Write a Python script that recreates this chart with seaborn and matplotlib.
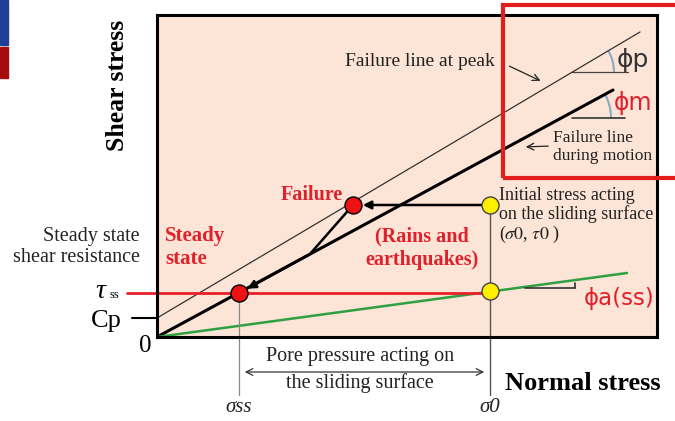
import numpy as np
import pandas as pd
import matplotlib.pyplot as plt
import matplotlib.patches as mpatches
import seaborn as sns

# values (box units: 500 wide, 322 high)
peak_x = [0, 483]
peak_y = [19, 305]
motion_x = [0, 456]
motion_y = [0, 247]
ss_x = [0, 470]
ss_y = [0, 64]
cp = 19
tau_ss = 44
sigma_ss = 82
sigma_0 = 333
tau_0 = 132
fail_x = 196
fail_y = 132
kink_x, kink_y = 153, 83
red_pts_x = [fail_x, sigma_ss]
red_pts_y = [fail_y, tau_ss]
yel_pts_x = [sigma_0, sigma_0]
yel_pts_y = [tau_0, tau_ss + 2]

sns.set_theme(style="white")
plt.rcParams['font.family'] = ['Liberation Serif', 'DejaVu Serif']
plt.rcParams['mathtext.fontset'] = 'stix'

fig = plt.figure(figsize=(6.75, 4.21), dpi=100)
ax = fig.add_axes([157 / 675, 84 / 421, 500 / 675, 322 / 421])
ax.set_facecolor("#fce4d6")
ax.set_xlim(0, 500)
ax.set_ylim(0, 322)
ax.set_xticks([])
ax.set_yticks([])
for s in ax.spines.values():
    s.set_color("black")
    s.set_linewidth(2.2)

lines = pd.DataFrame({"x": peak_x, "y": peak_y})
sns.lineplot(data=lines, x="x", y="y", ax=ax, color="#333333", lw=0.9)
sns.lineplot(x=motion_x, y=motion_y, ax=ax, color="black", lw=2.2)
sns.lineplot(x=ss_x, y=ss_y, ax=ax, color="#2ea043", lw=1.8)
ax.plot([-30, sigma_0], [tau_ss, tau_ss], color="#e8202a", lw=2, clip_on=False)
ax.plot([-25, 0], [cp, cp], color="black", lw=1.5, clip_on=False)
# sigma verticals
ax.plot([sigma_0, sigma_0], [tau_0, -58], color="#555555", lw=1, clip_on=False)
ax.plot([sigma_ss, sigma_ss], [tau_ss, -58], color="#888888", lw=0.9, clip_on=False)

# stress path
ax.annotate("", xy=(fail_x + 7, fail_y), xytext=(sigma_0, tau_0),
            arrowprops=dict(arrowstyle="-|>", color="black", lw=1.8, mutation_scale=12))
ax.plot([fail_x, kink_x], [fail_y, kink_y], color="black", lw=1.8)
ax.annotate("", xy=(sigma_ss + 6, tau_ss + 3), xytext=(kink_x, kink_y),
            arrowprops=dict(arrowstyle="-|>", color="black", lw=1.8, mutation_scale=12))

sns.scatterplot(x=red_pts_x, y=red_pts_y, ax=ax, s=150, color="#ee1111",
                edgecolor="black", linewidth=1, zorder=5)
sns.scatterplot(x=yel_pts_x, y=yel_pts_y, ax=ax, s=150, color="#ffee00",
                edgecolor="#444444", linewidth=1, zorder=5)

# angle arcs
ax.plot([415, 471], [265, 265], color="#444444", lw=0.9)
ax.add_patch(mpatches.Arc((415, 265), 84, 84, theta1=0, theta2=30.6, color="#8fa8c4", lw=1.5))
ax.plot([415, 468], [219, 219], color="#333333", lw=1.2)
ax.add_patch(mpatches.Arc((404, 219), 100, 100, theta1=0, theta2=28.4, color="#8fa8c4", lw=1.5))
ax.plot([368, 418], [49, 49], color="#333333", lw=1.2)
ax.plot([418, 418], [49, 54], color="#333333", lw=1.2)

red = "#e0202a"
ax.text(460, 277, "ϕp", fontsize=18, family=["DejaVu Sans"], color="#333333", va="center")
ax.text(457, 234, "ϕm", fontsize=17, family=["DejaVu Sans"], color=red, va="center")
ax.text(427, 39, "ϕa(ss)", fontsize=16.5, family=["DejaVu Sans"], color=red, va="center")

ax.text(188, 276, "Failure line at peak", fontsize=14, color="#222222", va="center")
ax.annotate("", xy=(386, 255), xytext=(350, 272),
            arrowprops=dict(arrowstyle="->", color="#222222", lw=0.9))
ax.text(396, 190, "Failure line\nduring motion", fontsize=12.5, color="#222222",
        va="center", linespacing=1.2)
ax.annotate("", xy=(366, 190), xytext=(394, 191),
            arrowprops=dict(arrowstyle="->", color="#222222", lw=0.9))

ax.text(186, 142, "Failure", fontsize=14.5, weight="bold", color=red, ha="right", va="center")
ax.text(8, 89, "Steady\nstate", fontsize=15, weight="bold", color=red, va="center",
        linespacing=1.2)
ax.text(265, 89, "(Rains and\nearthquakes)", fontsize=14.5, weight="bold", color=red,
        ha="center", va="center", linespacing=1.2)
ax.text(342, 121, "Initial stress acting\non the sliding surface\n($\\mathit{\\sigma 0}$, $\\mathit{\\tau 0}$ )",
        fontsize=13, color="#222222", va="center", linespacing=1.1)

# outside labels
ax.text(-17, 90, "Steady state\nshear resistance", fontsize=14.5, color="#222222",
        ha="right", va="center", linespacing=1.2)
ax.text(-52, tau_ss + 1, "τ", fontsize=20, style="italic", color="black", ha="right", va="center")
ax.text(-48, tau_ss - 2, "ss", fontsize=9, color="black", ha="left", va="center")
ax.text(-35, cp - 3, "Cp", fontsize=19, color="black", ha="right", va="center")
ax.text(-12, -9, "0", fontsize=18, color="black", ha="center", va="center")
ax.text(sigma_ss, -70, "σss", fontsize=15, style="italic", color="#222222", ha="center", va="center")
ax.text(sigma_0, -70, "σ0", fontsize=15, style="italic", color="#222222", ha="center", va="center")

ax.annotate("", xy=(sigma_0 - 3, -35), xytext=(sigma_ss + 3, -35), annotation_clip=False,
            arrowprops=dict(arrowstyle="<->", color="#333333", lw=0.9))
ax.text(203, -20, "Pore pressure acting on", fontsize=14.5, color="#222222", ha="center", va="center")
ax.text(203, -46, "the sliding surface", fontsize=14.5, color="#222222", ha="center", va="center")

ax.text(348, -46, "Normal stress", fontsize=19, weight="bold", color="black", va="center")
ax.text(-39, 252, "Shear stress", fontsize=18.5, weight="bold", color="black",
        rotation=90, ha="center", va="center")

# highlight frame and corner marks
fig.add_artist(mpatches.Rectangle((503 / 675, 1 - 178 / 421), 190 / 675, 173 / 421,
                                  fill=False, edgecolor="#e41c1c", lw=3, transform=fig.transFigure))
fig.add_artist(mpatches.Rectangle((0, 1 - 45 / 421), 8 / 675, 45 / 421,
                                  color="#1f3f99", transform=fig.transFigure))
fig.add_artist(mpatches.Rectangle((0, 1 - 78 / 421), 8 / 675, 31 / 421,
                                  color="#a50d0d", transform=fig.transFigure))

fig.savefig("out.png", dpi=100)
